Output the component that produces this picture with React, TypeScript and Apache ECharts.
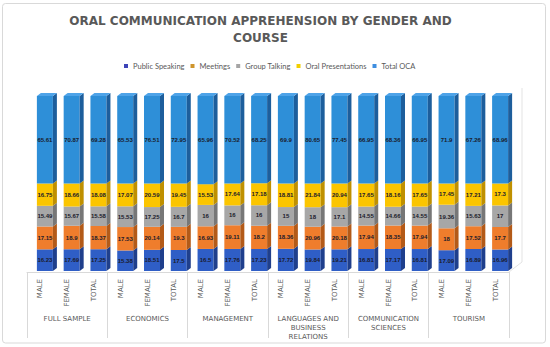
import React, { useEffect, useRef } from "react";
import * as echarts from "echarts";

const subLabels = [
  "MALE", "FEMALE", "TOTAL", "MALE", "FEMALE", "TOTAL", "MALE", "FEMALE", "TOTAL",
  "MALE", "FEMALE", "TOTAL", "MALE", "FEMALE", "TOTAL", "MALE", "FEMALE", "TOTAL",
];
const groups = [
  "FULL SAMPLE",
  "ECONOMICS",
  "MANAGEMENT",
  "LANGUAGES AND\nBUSINESS\nRELATIONS",
  "COMMUNICATION\nSCIENCES",
  "TOURISM",
];
const seriesNames = ["Public Speaking", "Meetings", "Group Talking", "Oral Presentations", "Total OCA"];

const publicSpeaking = [16.23, 17.69, 17.25, 15.38, 18.51, 17.5, 16.5, 17.76, 17.23, 17.72, 19.84, 19.21, 16.81, 17.17, 16.81, 17.09, 16.89, 16.96];
const meetings = [17.15, 18.9, 18.37, 17.53, 20.14, 19.3, 16.93, 19.11, 18.2, 18.36, 20.96, 20.18, 17.94, 18.35, 17.94, 18, 17.52, 17.7];
const groupTalking = [15.49, 15.67, 15.58, 15.53, 17.25, 16.7, 16, 16, 16, 15, 18, 17.1, 14.55, 14.66, 14.55, 19.36, 15.63, 17];
const oralPresentations = [16.75, 18.66, 18.08, 17.07, 20.59, 19.45, 15.53, 17.64, 17.18, 18.81, 21.84, 20.94, 17.65, 18.16, 17.65, 17.45, 17.21, 17.3];
const totalOCA = [65.61, 70.87, 69.28, 65.53, 76.51, 72.95, 65.96, 70.52, 68.25, 69.9, 80.65, 77.45, 66.95, 68.36, 66.95, 71.9, 67.26, 68.96];

const allSeries = [publicSpeaking, meetings, groupTalking, oralPresentations, totalOCA];

const frontColors = ["#2f5ec6", "#ef7d2c", "#a7a7a7", "#fbc500", "#2e8fd8"];
const sideColors = ["#1f3f8c", "#b35a18", "#777777", "#bf9000", "#1d5e9c"];
const topColor = "#4ea3e8";
const legendColors = ["#3d44b8", "#cf952c", "#a5a5a5", "#f2cf00", "#3e8ee0"];

export default function App() {
  const ref = useRef<HTMLDivElement>(null);
  useEffect(() => {
    if (!ref.current) return;
    const chart = echarts.init(ref.current, undefined, { renderer: "svg" });

    const sums = subLabels.map((_, i) => allSeries.reduce((a, s) => a + s[i], 0));
    const cum = subLabels.map(() => 0);
    const seriesData = allSeries.map((arr) =>
      arr.map((v, i) => {
        const base = cum[i];
        const pct = (v / sums[i]) * 100;
        cum[i] += pct;
        return [i, base, base + pct, v];
      })
    );

    const W = 16, DX = 4, DY = 3;

    const series = seriesData.map((data, s) => ({
      type: "custom",
      name: seriesNames[s],
      xAxisIndex: 0,
      yAxisIndex: 0,
      itemStyle: { color: legendColors[s] },
      encode: { x: 0, y: [1, 2] },
      data,
      renderItem: (params: any, api: any) => {
        const i = api.value(0);
        const b = api.coord([i, api.value(1)]);
        const t = api.coord([i, api.value(2)]);
        const raw = api.value(3);
        const x = b[0] - W / 2;
        const yT = t[1];
        const yB = b[1];
        const children: any[] = [
          {
            type: "rect",
            shape: { x, y: yT, width: W, height: yB - yT },
            style: { fill: frontColors[s] },
          },
          {
            type: "polygon",
            shape: { points: [[x + W, yT], [x + W + DX, yT - DY], [x + W + DX, yB - DY], [x + W, yB]] },
            style: { fill: sideColors[s] },
          },
        ];
        if (s === seriesData.length - 1) {
          children.push({
            type: "polygon",
            shape: { points: [[x, yT], [x + DX, yT - DY], [x + W + DX, yT - DY], [x + W, yT]] },
            style: { fill: topColor },
          });
        }
        children.push({
          type: "text",
          x: b[0],
          y: (yT + yB) / 2,
          style: {
            text: String(raw),
            align: "center",
            verticalAlign: "middle",
            fill: "#1b1b2b",
            fontSize: 6,
            fontWeight: "bold",
            fontFamily: "Liberation Sans",
          },
        });
        return { type: "group", children };
      },
    }));

    chart.setOption({
      animation: false,
      backgroundColor: "#ffffff",
      legend: {
        top: 57,
        left: 119,
        icon: "rect",
        itemWidth: 4,
        itemHeight: 4,
        itemGap: 6,
        textStyle: { fontSize: 7.5, color: "#595959", fontFamily: "Lato" },
        data: seriesNames.map((n, k) => ({ name: n, itemStyle: { color: legendColors[k] } })),
      },
      grid: [
        { left: 31.5, width: 482, top: 96, height: 175 },
        { left: 27, width: 482, top: 271, height: 1 },
      ],
      xAxis: [
        { type: "category", gridIndex: 0, data: subLabels, show: false },
        {
          type: "category",
          gridIndex: 1,
          position: "bottom",
          data: subLabels,
          axisLine: { show: true, lineStyle: { color: "#d9d9d9" } },
          axisTick: { show: false },
          axisLabel: { interval: 0, rotate: 90, margin: 7, fontSize: 7, color: "#595959", fontFamily: "DejaVu Sans" },
        },
        {
          type: "category",
          gridIndex: 1,
          position: "bottom",
          data: groups,
          axisLine: { show: false },
          axisTick: { show: true, interval: 0, length: 66, lineStyle: { color: "#d9d9d9" } },
          axisLabel: {
            interval: 0,
            margin: 42,
            fontSize: 7,
            lineHeight: 9,
            verticalAlign: "top",
            color: "#595959",
            fontFamily: "DejaVu Sans",
          },
        },
      ],
      yAxis: [
        { type: "value", gridIndex: 0, min: 0, max: 100, show: false },
        { type: "value", gridIndex: 1, show: false },
      ],
      graphic: [
        {
          type: "rect",
          shape: { x: 2.5, y: 3.5, width: 543, height: 339.5, r: 3 },
          style: { fill: "none", stroke: "#d9d9d9", lineWidth: 1 },
          z: -1,
        },
        {
          type: "line",
          shape: { x1: 509, y1: 272, x2: 522, y2: 262 },
          style: { stroke: "#e3e3e3", lineWidth: 1 },
          z: -1,
        },
        {
          type: "line",
          shape: { x1: 522, y1: 262, x2: 522, y2: 88 },
          style: { stroke: "#e3e3e3", lineWidth: 1 },
          z: -1,
        },
        {
          type: "text",
          x: 260.5,
          y: 12,
          style: {
            text: "ORAL COMMUNICATION APPREHENSION BY GENDER AND\nCOURSE",
            align: "center",
            verticalAlign: "top",
            lineHeight: 17,
            fill: "#595959",
            fontSize: 12,
            fontWeight: "bold",
            fontFamily: "DejaVu Sans",
          },
        },
      ],
      series,
    });
    return () => chart.dispose();
  }, []);
  return (
    <div
      ref={ref}
      style={{ position: "absolute", left: 0, top: 0, width: 550, height: 347, background: "#fff" }}
    />
  );
}
